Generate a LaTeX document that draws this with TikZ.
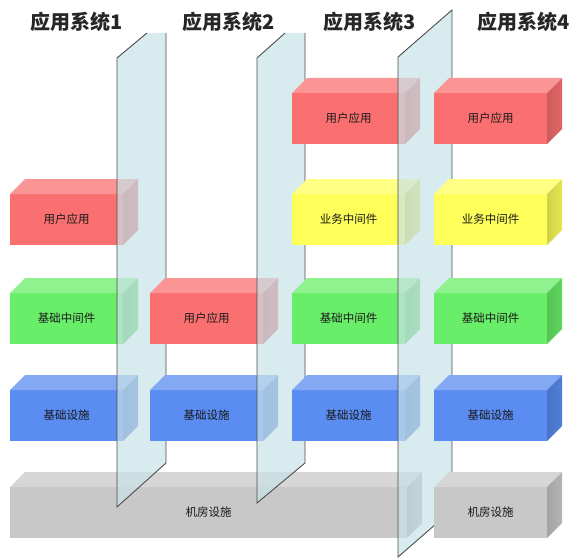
\documentclass[tikz,border=0pt]{standalone}
\usepackage{fontspec}
\newfontfamily\cjk{Noto Sans CJK SC}
\usetikzlibrary{positioning}
\definecolor{boxred}{RGB}{250,112,112}
\definecolor{boxyellow}{RGB}{255,255,90}
\definecolor{boxgreen}{RGB}{105,238,105}
\definecolor{boxblue}{RGB}{90,140,242}
\definecolor{boxgray}{RGB}{200,200,200}
\definecolor{glassblue}{RGB}{200,226,232}
\newcommand\slab[6]{%
	\node[box, fill=#4, minimum width=#5] (#1) at (#2,#3) {#6};
	\fill[#4!75!white] (#1.north west) -- (#1.north east) -- ++(15,-15) -- ([shift={(15,-15)}]#1.north west) -- cycle;
	\shade[left color=#4!82!black, right color=#4!90!black] (#1.north east) -- ++(15,-15) -- ([shift={(15,-15)}]#1.south east) -- (#1.south east) -- cycle;
}
\begin{document}
\begin{tikzpicture}
			[x=1pt, y=-1pt,
			box/.style={anchor=north west, inner sep=0pt, outer sep=0pt, minimum height=51pt, text=black!90, font=\cjk\fontsize{11.5}{13}\selectfont},
			title/.style={font=\cjk\bfseries\fontsize{20}{22}\selectfont, text=black!85},
			glass/.style={fill=glassblue, fill opacity=0.7},
			rim/.style={draw=black!70, line width=0.9pt}]
			\useasboundingbox (0,0) rectangle (580,559);
			\node[title] (t1) at (77,22) {应用系统1};
			\node[title] (t2) at (229,22) {应用系统2};
			\node[title] (t3) at (370,22) {应用系统3};
			\node[title] (t4) at (524,22) {应用系统4};
			\slab{a1}{10}{194}{boxred}{113pt}{用户应用}
			\slab{b1}{10}{293}{boxgreen}{113pt}{基础中间件}
			\slab{c1}{10}{390}{boxblue}{113pt}{基础设施}
			\slab{room}{10}{487}{boxgray}{397pt}{机房设施}
			\fill[glass] (117,58) -- (147,33) -- (166,33) -- (166,463) -- (117,507) -- cycle;
			\draw[rim] (147,33) -- (117,58) -- (117,507) -- (166,463) -- (166,33);
			\slab{a2}{150}{293}{boxred}{113pt}{用户应用}
			\slab{c2}{150}{390}{boxblue}{113pt}{基础设施}
			\fill[glass] (257,58) -- (285,33) -- (305,33) -- (305,463) -- (257,503) -- cycle;
			\draw[rim] (285,33) -- (257,58) -- (257,503) -- (305,463) -- (305,33);
			\slab{a3}{292}{93}{boxred}{113pt}{用户应用}
			\slab{b3}{292}{194}{boxyellow}{113pt}{业务中间件}
			\slab{c3}{292}{293}{boxgreen}{113pt}{基础中间件}
			\slab{d3}{292}{390}{boxblue}{113pt}{基础设施}
			\fill[glass] (398,57) -- (452,10) -- (452,510) -- (398,557) -- cycle;
			\draw[rim] (398,57) -- (452,10) -- (452,510) -- (398,557) -- cycle;
			\slab{a4}{434}{93}{boxred}{113pt}{用户应用}
			\slab{b4}{434}{194}{boxyellow}{113pt}{业务中间件}
			\slab{c4}{434}{293}{boxgreen}{113pt}{基础中间件}
			\slab{d4}{434}{390}{boxblue}{113pt}{基础设施}
			\slab{room4}{434}{487}{boxgray}{113pt}{机房设施}
		\end{tikzpicture}
\end{document}
